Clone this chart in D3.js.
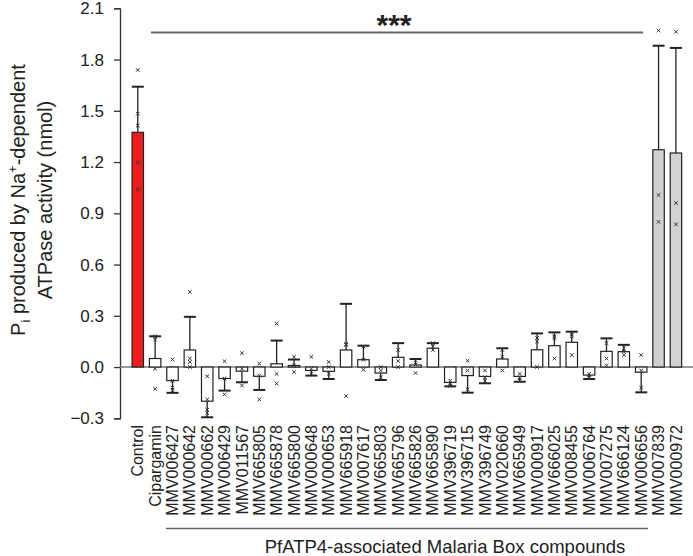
<!DOCTYPE html>
<html><head><meta charset="utf-8">
<script src="https://cdn.jsdelivr.net/npm/d3@7"></script>
<style>body{margin:0;background:#fff}svg{display:block;font-family:Arial,"Liberation Sans",sans-serif}</style>
</head><body><svg id="c" width="693" height="556"></svg>
<script>
const categories = ["Control","Cipargamin","MMV006427","MMV000642","MMV000662","MMV006429","MMV011567","MMV665805","MMV665878","MMV665800","MMV000648","MMV000653","MMV665918","MMV007617","MMV665803","MMV665796","MMV665826","MMV665890","MMV396719","MMV396715","MMV396749","MMV020660","MMV665949","MMV000917","MMV666025","MMV008455","MMV006764","MMV007275","MMV666124","MMV006656","MMV007839","MMV000972"];
const means = [1.374,0.05,-0.079,0.10,-0.20,-0.067,-0.024,-0.054,0.019,0.009,-0.02,-0.025,0.10,0.043,-0.035,0.057,0.012,0.11,-0.09,-0.05,-0.055,0.047,-0.055,0.101,0.125,0.145,-0.047,0.092,0.09,-0.03,1.272,1.253];
const errors = [0.267,0.13,0.072,0.194,0.094,0.071,0.065,0.08,0.136,0.035,0.03,0.045,0.27,0.082,0.041,0.083,0.035,0.03,0.023,0.10,0.04,0.063,0.031,0.096,0.078,0.062,0.023,0.076,0.04,0.118,0.609,0.615];
const points = [[1.739,1.483,1.413,1.196,1.04],[0.18,0.16,-0.01,-0.128],[0.044,-0.08,-0.12,-0.135],[0.44,0.05,0.03,0.0],[-0.054,-0.19,-0.25,-0.27],[0.034,-0.067,-0.16],[0.081,-0.01,-0.108],[0.02,-0.05,-0.19],[0.255,-0.04,-0.097],[0.06,0.01,-0.03],[0.06,-0.01,-0.04],[0.03,0.0,-0.04],[0.135,0.13,-0.17],[0.12,0.043,-0.016],[0.0,-0.02,-0.06],[0.1,0.035,0.0],[0.04,0.015,-0.035],[0.14,0.1,0.12],[-0.08,-0.1,-0.11],[0.037,-0.02,-0.13],[-0.02,-0.06,-0.08],[0.1,0.06,-0.02],[-0.04,-0.06,-0.08],[0.15,0.17,0.0],[0.05,0.17,0.18],[0.07,0.18,0.19],[-0.04,-0.06,-0.065],[0.14,0.05,0.01],[0.07,0.09,0.11],[0.07,-0.02,-0.12],[1.97,1.007,0.85],[1.963,0.96,0.835]];
const yTicks = [-0.3,0.0,0.3,0.6,0.9,1.2,1.5,1.8,2.1];
const groupLabel = "PfATP4-associated Malaria Box compounds";
const sigLabel = "***";

const svg = d3.select("#c");
const x = d3.scaleBand().domain(categories).range([129.1,684.6]).paddingInner(0.34).paddingOuter(0.17);
const y = d3.scaleLinear().domain([-0.3,2.1]).range([418.3,8.3]);
const fillFor = (c,i) => i===0 ? "#ee1d1d" : (i>=30 ? "#d2d2d2" : "#ffffff");

// y axis
const ax = svg.append("g").attr("transform","translate(120,0)")
  .call(d3.axisLeft(y).tickValues(yTicks).tickFormat(d3.format(".1f")).tickSize(6).tickPadding(10));
ax.select(".domain").attr("stroke","#333").attr("stroke-width",1.3);
ax.selectAll(".tick line").attr("stroke","#333").attr("stroke-width",1.3);
ax.selectAll(".tick text").attr("font-size",17).attr("fill","#222").attr("font-family","Arial,'Liberation Sans',sans-serif");

// zero line
svg.append("line").attr("x1",120).attr("x2",693).attr("y1",y(0)).attr("y2",y(0)).attr("stroke","#777").attr("stroke-width",1.5);

// bars
const g = svg.append("g");
categories.forEach((c,i) => {
  const m = means[i], e = errors[i], cx = x(c)+x.bandwidth()/2;
  g.append("rect").attr("x",x(c)).attr("width",x.bandwidth())
    .attr("y",y(Math.max(0,m))).attr("height",Math.abs(y(m)-y(0)))
    .attr("fill",fillFor(c,i)).attr("stroke","#222").attr("stroke-width",1.2);
  const tip = m>=0 ? m+e : m-e;
  g.append("line").attr("x1",cx).attr("x2",cx).attr("y1",y(m)).attr("y2",y(tip)).attr("stroke","#222").attr("stroke-width",1.3);
  g.append("line").attr("x1",cx-6).attr("x2",cx+6).attr("y1",y(tip)).attr("y2",y(tip)).attr("stroke","#222").attr("stroke-width",2);
  points[i].forEach(p => {
    const py = y(p), s = 1.8;
    g.append("path").attr("d",`M${cx-s},${py-s}L${cx+s},${py+s}M${cx-s},${py+s}L${cx+s},${py-s}`)
      .attr("stroke","#333").attr("stroke-width",1);
  });
});

// x labels
svg.append("g").selectAll("text").data(categories).join("text")
  .attr("transform",d=>`translate(${x(d)+x.bandwidth()/2},425) rotate(-90)`)
  .attr("text-anchor","end").attr("dy","0.35em").attr("font-size",16).attr("fill","#222").text(d=>d);

// significance
svg.append("line").attr("x1",151).attr("x2",643).attr("y1",32.5).attr("y2",32.5).attr("stroke","#666").attr("stroke-width",2);
svg.append("text").attr("x",394).attr("y",35).attr("text-anchor","middle").attr("font-size",30).attr("font-weight","bold").attr("fill","#222").text(sigLabel);

// group bracket
svg.append("line").attr("x1",166).attr("x2",648).attr("y1",528.5).attr("y2",528.5).attr("stroke","#666").attr("stroke-width",1.5);
svg.append("text").attr("x",445).attr("y",553).attr("text-anchor","middle").attr("font-size",18.5).attr("fill","#222").text(groupLabel);

// y label
const yl = svg.append("text").attr("transform","translate(0,200) rotate(-90)").attr("text-anchor","middle").attr("font-size",20).attr("fill","#222");
const l1 = yl.append("tspan").attr("x",0).attr("y",25);
l1.append("tspan").text("P");
l1.append("tspan").attr("font-size",13).attr("dy",5).text("i");
l1.append("tspan").attr("dy",-5).text(" produced by Na");
l1.append("tspan").attr("font-size",13).attr("dy",-8).text("+");
l1.append("tspan").attr("dy",8).text("-dependent");
yl.append("tspan").attr("x",0).attr("y",52).text("ATPase activity (nmol)");
</script></body></html>
